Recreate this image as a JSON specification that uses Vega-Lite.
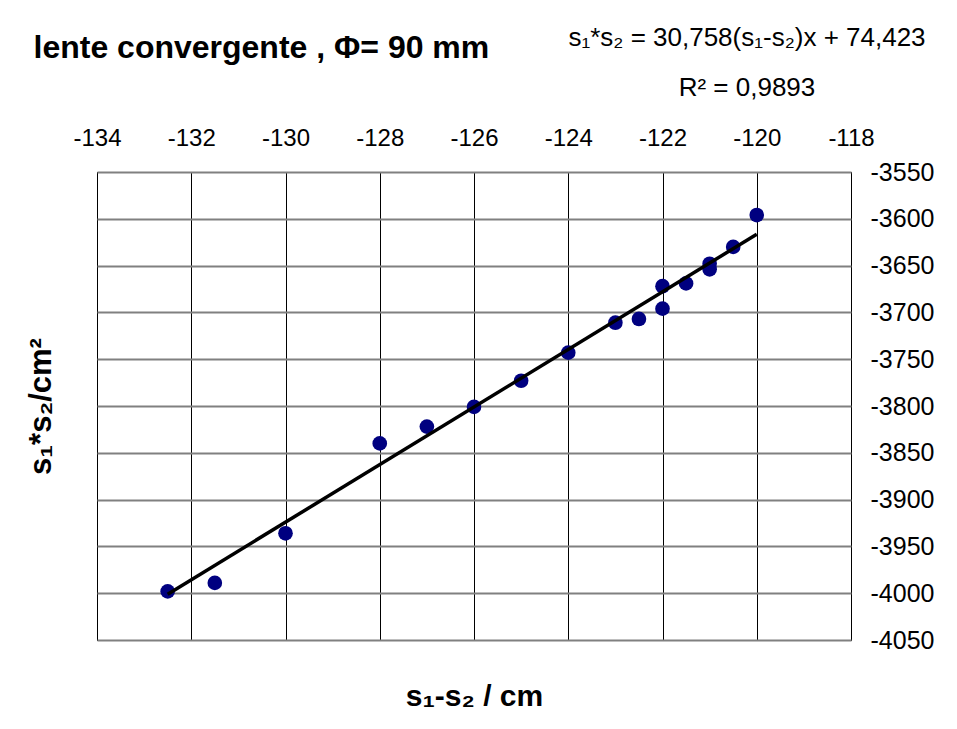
{
  "$schema": "https://vega.github.io/schema/vega-lite/v6.json",
  "width": 754,
  "height": 468,
  "autosize": {"type": "none"},
  "padding": {"left": 97, "top": 172, "right": 106, "bottom": 89},
  "background": "white",
  "config": {
    "font": "Liberation Sans",
    "view": {"stroke": "black", "strokeWidth": 1},
    "locale": {"number": {"decimal": ",", "thousands": ".", "grouping": [3], "currency": ["", " €"], "minus": "-"}}
  },
  "title": {
    "text": ["s₁*s₂ = 30,758(s₁-s₂)x + 74,423", "R² = 0,9893"],
    "anchor": "middle",
    "dx": 273,
    "dy": 70,
    "fontSize": 26,
    "fontWeight": "normal",
    "lineHeight": 50,
    "font": "Liberation Sans",
    "color": "black",
    "align": "center",
    "offset": 0
  },
  "datasets": {
    "points": [
      {"diff": -132.5, "prod": -3998},
      {"diff": -131.5, "prod": -3989},
      {"diff": -130, "prod": -3936},
      {"diff": -128, "prod": -3840},
      {"diff": -127, "prod": -3822},
      {"diff": -126, "prod": -3801},
      {"diff": -125, "prod": -3773},
      {"diff": -124, "prod": -3743},
      {"diff": -123, "prod": -3711},
      {"diff": -122.5, "prod": -3707},
      {"diff": -122, "prod": -3672},
      {"diff": -122, "prod": -3696},
      {"diff": -121.5, "prod": -3669},
      {"diff": -121, "prod": -3648},
      {"diff": -121, "prod": -3654},
      {"diff": -120.5, "prod": -3630},
      {"diff": -120, "prod": -3596}
    ],
    "fit": [
      {"diff": -132.5, "prod": -4001.0},
      {"diff": -120, "prod": -3616.5}
    ]
  },
  "layer": [
    {
      "data": {"name": "points"},
      "mark": {"type": "circle", "size": 215, "color": "#000080", "opacity": 1},
      "encoding": {
        "x": {
          "field": "diff",
          "type": "quantitative",
          "scale": {"domain": [-134, -118], "nice": false, "zero": false},
          "axis": {
            "orient": "top",
            "values": [-134, -132, -130, -128, -126, -124, -122, -120, -118],
            "format": "d",
            "grid": true,
            "gridColor": "black",
            "gridWidth": 1,
            "gridOpacity": 1,
            "ticks": false,
            "domain": false,
            "labelFontSize": 24,
            "labelColor": "black",
            "labelPadding": 22,
            "labelFlush": false,
            "labelOverlap": false,
            "title": "lente convergente , Φ= 90 mm",
            "titleFontSize": 32,
            "titleFontWeight": "bold",
            "titleColor": "black",
            "titleX": -64,
            "titleY": -115,
            "titleAlign": "left",
            "titleBaseline": "alphabetic"
          }
        },
        "y": {
          "field": "prod",
          "type": "quantitative",
          "scale": {"domain": [-4050, -3550], "nice": false, "zero": false},
          "axis": {
            "orient": "right",
            "values": [-4050, -4000, -3950, -3900, -3850, -3800, -3750, -3700, -3650, -3600, -3550],
            "format": "d",
            "grid": true,
            "gridColor": "#808080",
            "gridWidth": 2,
            "gridOpacity": 1,
            "ticks": false,
            "domain": false,
            "labelFontSize": 25,
            "labelColor": "black",
            "labelPadding": 19,
            "labelFlush": false,
            "labelOverlap": false,
            "labelBaseline": "middle",
            "title": null
          }
        }
      }
    },
    {
      "data": {"name": "fit"},
      "mark": {"type": "line", "color": "black", "strokeWidth": 3.5},
      "encoding": {
        "x": {
          "field": "diff",
          "type": "quantitative",
          "axis": {
            "orient": "bottom",
            "labels": false,
            "ticks": false,
            "domain": false,
            "grid": false,
            "title": "s₁-s₂ / cm",
            "titleFontSize": 30,
            "titleFontWeight": "bold",
            "titleColor": "black",
            "titleY": 65,
            "titleBaseline": "alphabetic"
          }
        },
        "y": {
          "field": "prod",
          "type": "quantitative",
          "axis": {
            "orient": "left",
            "labels": false,
            "ticks": false,
            "domain": false,
            "grid": false,
            "title": "s₁*s₂/cm²",
            "titleFontSize": 31,
            "titleFontWeight": "bold",
            "titleColor": "black",
            "titleX": -47,
            "titleBaseline": "alphabetic"
          }
        }
      }
    }
  ],
  "resolve": {"axis": {"x": "independent", "y": "independent"}}
}
